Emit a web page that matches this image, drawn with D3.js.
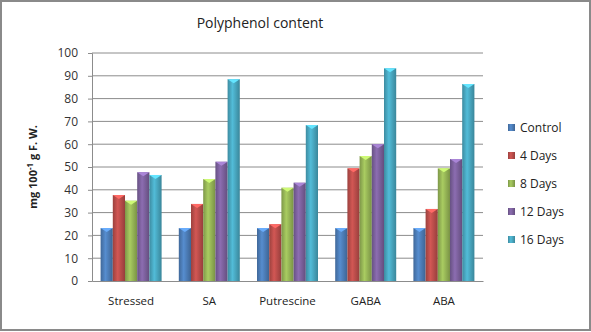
<!DOCTYPE html>
<html>
<head>
<meta charset="utf-8">
<script src="https://cdn.jsdelivr.net/npm/d3@7"></script>
<style>
  body { margin: 0; background: #fff; }
  svg { display: block; font-family: "Open Sans", "Liberation Sans", sans-serif; }
</style>
</head>
<body>
<div id="chart"></div>
<script>
var categories = ["Stressed", "SA", "Putrescine", "GABA", "ABA"]
var seriesNames = ["Control", "4 Days", "8 Days", "12 Days", "16 Days"]
var control = [23.2, 23.2, 23.2, 23.2, 23.2]
var days4 = [37.7, 33.8, 24.9, 49.4, 31.6]
var days8 = [35.2, 44.7, 40.9, 54.8, 49.4]
var days12 = [47.7, 52.3, 43.1, 60.0, 53.5]
var days16 = [46.5, 88.5, 68.4, 93.3, 86.4]
var yTicks = [0, 10, 20, 30, 40, 50, 60, 70, 80, 90, 100]
var colors = ["#4F81BD", "#C0504D", "#9BBB59", "#8064A2", "#4BACC6"]

var series = [control, days4, days8, days12, days16]

var W = 591, H = 332
var margin = {top: 53, left: 92, right: 108, bottom: 51}
var width = W - margin.left - margin.right,
    height = H - margin.top - margin.bottom

var svg = d3.select("#chart").append("svg")
  .attr("width", W).attr("height", H)

// outer frame
svg.append("rect")
  .attr("x", 1).attr("y", 1).attr("width", W - 2).attr("height", H - 3)
  .attr("fill", "#fff").attr("stroke", "#8a8a8a").attr("stroke-width", 2)

var defs = svg.append("defs")
colors.forEach(function(c, i) {
  var g = defs.append("linearGradient").attr("id", "grad" + i)
    .attr("x1", "0%").attr("x2", "100%").attr("y1", "0%").attr("y2", "0%")
  g.append("stop").attr("offset", "0%").attr("stop-color", d3.color(c).darker(0.6))
  g.append("stop").attr("offset", "40%").attr("stop-color", d3.color(c).brighter(0.25))
  g.append("stop").attr("offset", "100%").attr("stop-color", d3.color(c).darker(0.7))
})

svg.append("text")
  .attr("x", 260).attr("y", 28)
  .attr("text-anchor", "middle")
  .attr("font-size", 14).attr("fill", "#222")
  .text("Polyphenol content")

var g = svg.append("g")
  .attr("transform", "translate(" + margin.left + "," + margin.top + ")")

var x = d3.scaleBand().domain(categories).range([0, width]).paddingInner(0.22).paddingOuter(0.11)
var x1 = d3.scaleBand().domain(seriesNames).range([0, x.bandwidth()])
var y = d3.scaleLinear().domain([0, 100]).range([height, 0])

// gridlines
g.append("g").selectAll("line").data(yTicks.filter(d => d > 0)).enter().append("line")
  .attr("x1", 0).attr("x2", width)
  .attr("y1", d => y(d)).attr("y2", d => y(d))
  .attr("stroke", "#8c8c8c").attr("stroke-width", 1)

// y axis
var yAxis = g.append("g")
  .call(d3.axisLeft(y).tickValues(yTicks).tickSize(4).tickPadding(10))
yAxis.select(".domain").attr("stroke", "#8c8c8c")
yAxis.selectAll(".tick line").attr("stroke", "#8c8c8c")
yAxis.selectAll("text").attr("font-size", 12).attr("fill", "#333")
  .attr("font-family", "'Open Sans', sans-serif")

// bars
var groups = g.selectAll(".grp").data(categories).enter().append("g")
  .attr("transform", d => "translate(" + x(d) + ",0)")

groups.each(function(cat, ci) {
  var grp = d3.select(this)
  seriesNames.forEach(function(s, si) {
    var v = series[si][ci]
    var bx = x1(s), bw = x1.bandwidth()
    grp.append("rect")
      .attr("x", bx).attr("y", y(v))
      .attr("width", bw).attr("height", y(0) - y(v))
      .attr("fill", "url(#grad" + si + ")")
    grp.append("path")
      .attr("d", "M" + bx + "," + y(v) + "L" + (bx + bw) + "," + y(v) +
        "L" + (bx + bw / 2) + "," + (y(v) + 4) + "Z")
      .attr("fill", d3.color(colors[si]).brighter(0.8))
  })
})

// x axis
var xAxis = g.append("g").attr("transform", "translate(0," + height + ")")
  .call(d3.axisBottom(x).tickSize(0).tickPadding(16))
xAxis.select(".domain").attr("stroke", "#8c8c8c")
xAxis.selectAll("text").attr("font-size", 11.5).attr("fill", "#222")
  .attr("font-family", "'Open Sans', sans-serif")

// y label
var yl = svg.append("text")
  .attr("transform", "translate(37,167) rotate(-90)")
  .attr("text-anchor", "middle")
  .attr("font-size", 11).attr("font-weight", "bold").attr("fill", "#222")
yl.append("tspan").text("mg 100")
yl.append("tspan").attr("font-size", 8).attr("dy", -4).text("-1")
yl.append("tspan").attr("dy", 4).text(" g F. W.")

// legend
var legend = svg.append("g").attr("transform", "translate(508,128)")
seriesNames.forEach(function(s, i) {
  var row = legend.append("g").attr("transform", "translate(0," + i * 28 + ")")
  row.append("rect").attr("x", 0).attr("y", -4).attr("width", 7).attr("height", 7)
    .attr("fill", "url(#grad" + i + ")")
  row.append("text").attr("x", 12).attr("y", 4)
    .attr("font-size", 12).attr("fill", "#222").text(s)
})
</script>
</body>
</html>
